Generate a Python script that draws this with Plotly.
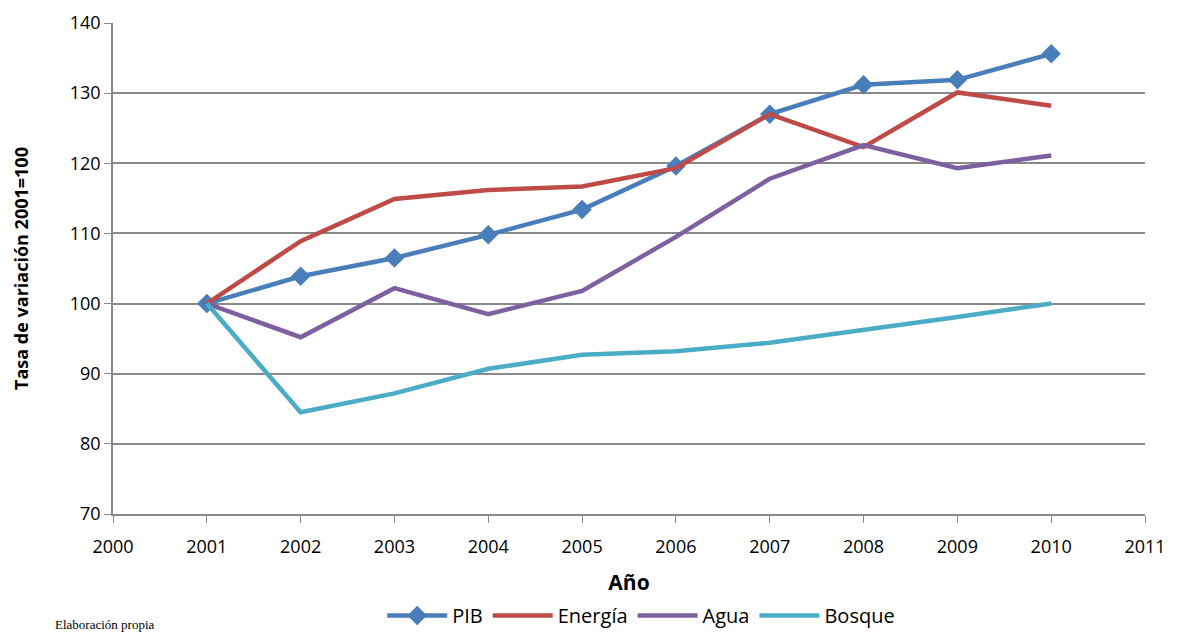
import plotly.graph_objects as go

years = [2001, 2002, 2003, 2004, 2005, 2006, 2007, 2008, 2009, 2010]
pib = [100, 103.9, 106.5, 109.8, 113.4, 119.6, 127.0, 131.2, 131.9, 135.6]
energia = [100, 108.9, 114.9, 116.2, 116.7, 119.3, 127.0, 122.3, 130.1, 128.2]
agua = [100, 95.2, 102.2, 98.5, 101.8, 109.5, 117.8, 122.6, 119.3, 121.1]
bosque = [100, 84.5, 87.2, 90.7, 92.7, 93.2, 94.4, 96.2, 98.1, 100.0]

x_ticks = list(range(2000, 2012))
y_ticks = list(range(70, 141, 10))

FONT = "Open Sans"
GRID = "#898989"

fig = go.Figure()
fig.add_trace(go.Scatter(x=years, y=pib, name="PIB", mode="lines+markers",
                         line=dict(color="#4A7EBB", width=4.5),
                         marker=dict(symbol="diamond", size=15, color="#4A7EBB")))
fig.add_trace(go.Scatter(x=years, y=energia, name="Energía", mode="lines",
                         line=dict(color="#BE4B48", width=4.5)))
fig.add_trace(go.Scatter(x=years, y=agua, name="Agua", mode="lines",
                         line=dict(color="#7D60A0", width=4.5)))
fig.add_trace(go.Scatter(x=years, y=bosque, name="Bosque", mode="lines",
                         line=dict(color="#4BACC6", width=4.5)))

fig.update_layout(
    width=1183, height=635,
    margin=dict(l=113, r=38, t=23, b=121, autoexpand=False),
    paper_bgcolor="white", plot_bgcolor="white",
    font=dict(family=FONT, size=18, color="#000000"),
    showlegend=True,
    legend=dict(orientation="h", x=0.542, xref="container", xanchor="center",
                y=0.0, yref="container", yanchor="bottom",
                font=dict(size=20), itemwidth=60, tracegroupgap=0),
    xaxis=dict(range=[2000, 2011], tickvals=x_ticks, ticks="outside", ticklen=7,
               tickcolor=GRID, showline=True, linecolor=GRID, linewidth=1.5,
               showgrid=False, zeroline=False, tickfont=dict(size=18),
               ticklabelstandoff=9,
               title=dict(text="<b>Año</b>", font=dict(size=21), standoff=22)),
    yaxis=dict(range=[70, 140], tickvals=y_ticks, ticks="outside", ticklen=7,
               tickcolor=GRID, showline=True, linecolor=GRID, linewidth=1.5,
               showgrid=True, gridcolor=GRID, gridwidth=1.5, zeroline=False,
               tickfont=dict(size=18),
               title=dict(text="<b>Tasa de variación 2001=100</b>", font=dict(size=18), standoff=36)),
)

fig.add_annotation(text="Elaboración propia", xref="paper", yref="paper",
                   x=-0.058, y=-0.205, xanchor="left", yanchor="top",
                   showarrow=False, font=dict(family="Liberation Serif", size=13))

fig.write_html("out.html")
